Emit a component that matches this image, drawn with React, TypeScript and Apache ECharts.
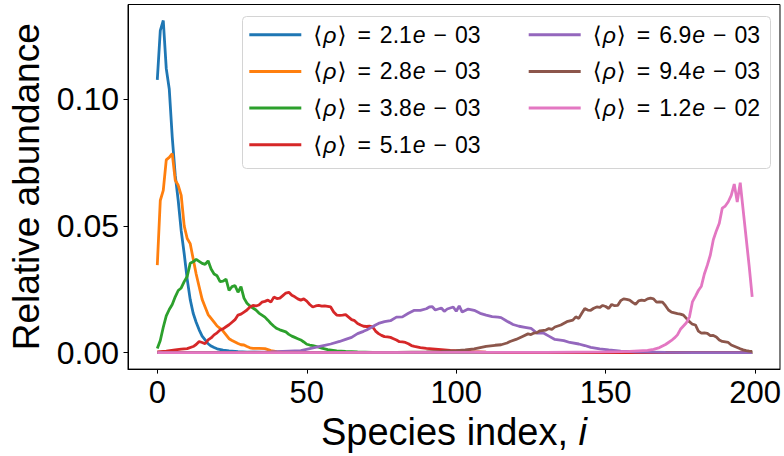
import React, { useEffect, useRef } from "react";
import * as echarts from "echarts";

const seriesNames = [
  "2.1e-03",
  "2.8e-03",
  "3.8e-03",
  "5.1e-03",
  "6.9e-03",
  "9.4e-03",
  "1.2e-02",
];
const colors = ["#1f77b4", "#ff7f0e", "#2ca02c", "#d62728", "#9467bd", "#8c564b", "#e377c2"];

const xTicks = [0, 50, 100, 150, 200];
const yTicks = [0, 0.05, 0.1];

const blue: number[][] = [
  [0, 0.1076], [1, 0.127], [2, 0.131], [3, 0.112], [4, 0.104], [5, 0.085], [6, 0.07], [7, 0.06],
  [8, 0.048], [9, 0.039], [10, 0.029], [11, 0.021], [12, 0.0155], [13, 0.012], [14, 0.009],
  [15, 0.0065], [16, 0.005], [17, 0.0035], [18, 0.0026], [19, 0.002], [20, 0.0015], [22, 0.001],
  [24, 0.0007], [27, 0.0004], [30, 0.0002], [35, 0.0001], [40, 0], [199, 0],
];
const orange: number[][] = [
  [0, 0.0345], [1, 0.06], [2, 0.064], [3, 0.076], [4, 0.077], [5, 0.0785], [6, 0.068], [7, 0.066],
  [8, 0.062], [9, 0.05], [10, 0.045], [11, 0.043], [12, 0.037], [13, 0.031], [14, 0.026], [15, 0.021],
  [16, 0.018], [17, 0.015], [18, 0.0135], [19, 0.012], [20, 0.0105], [21, 0.0096], [22, 0.0085],
  [23, 0.007], [24, 0.0055], [25, 0.0048], [26, 0.0042], [27, 0.0036], [28, 0.0031], [29, 0.003],
  [30, 0.0024], [31, 0.0019], [32, 0.0017], [34, 0.0017], [36, 0.0016], [38, 0.0008], [40, 0.0004],
  [45, 0.0002], [50, 0.0001], [55, 0], [199, 0],
];
const green: number[][] = [
  [0, 0.0016], [1, 0.0048], [2, 0.01], [3, 0.0145], [4, 0.017], [5, 0.019], [6, 0.022], [7, 0.0245],
  [8, 0.0255], [9, 0.028], [10, 0.03], [11, 0.0352], [12, 0.0358], [13, 0.0368], [14, 0.036],
  [15, 0.0352], [16, 0.0348], [17, 0.0362], [18, 0.033], [19, 0.031], [20, 0.0303], [21, 0.028],
  [22, 0.0282], [23, 0.029], [24, 0.0245], [25, 0.026], [26, 0.0264], [27, 0.0238], [28, 0.026],
  [29, 0.0215], [30, 0.0195], [31, 0.0184], [32, 0.0176], [33, 0.0168], [34, 0.0156], [35, 0.0148],
  [36, 0.014], [37, 0.0128], [38, 0.0115], [39, 0.0104], [40, 0.0095], [41, 0.009], [42, 0.0086],
  [43, 0.0082], [44, 0.0072], [45, 0.0065], [46, 0.006], [47, 0.0055], [48, 0.005], [49, 0.0042],
  [50, 0.0033], [51, 0.003], [52, 0.0028], [53, 0.0025], [55, 0.0018], [57, 0.0012], [60, 0.0007],
  [63, 0.0005], [67, 0.0003], [72, 0.0001], [80, 0], [199, 0],
];
const red: number[][] = [
  [0, 0.0003], [3, 0.0006], [6, 0.0011], [8, 0.0014], [10, 0.0016], [12, 0.0024], [13, 0.0032],
  [14, 0.0044], [15, 0.004], [16, 0.0035], [17, 0.005], [18, 0.0058], [19, 0.007], [20, 0.0078],
  [21, 0.0089], [22, 0.0094], [23, 0.0102], [24, 0.011], [25, 0.012], [26, 0.013], [27, 0.0148],
  [28, 0.0152], [29, 0.016], [30, 0.0168], [31, 0.018], [32, 0.0186], [33, 0.0184], [34, 0.0188],
  [35, 0.0199], [36, 0.0202], [37, 0.0207], [38, 0.0199], [39, 0.0219], [40, 0.0213], [41, 0.0215],
  [42, 0.0225], [43, 0.0235], [44, 0.0238], [45, 0.0226], [46, 0.022], [47, 0.0212], [48, 0.0207],
  [49, 0.0212], [50, 0.0203], [51, 0.019], [52, 0.018], [53, 0.0184], [54, 0.0186], [55, 0.0183],
  [56, 0.0184], [57, 0.0182], [58, 0.018], [59, 0.016], [60, 0.0148], [61, 0.0147], [62, 0.0148],
  [63, 0.015], [64, 0.014], [65, 0.013], [66, 0.0126], [67, 0.0115], [68, 0.0109], [69, 0.0104],
  [70, 0.0103], [71, 0.0104], [72, 0.0102], [73, 0.0085], [74, 0.0075], [75, 0.0068], [76, 0.0063],
  [77, 0.0062], [78, 0.006], [79, 0.0055], [80, 0.005], [81, 0.0043], [82, 0.0042], [83, 0.004],
  [84, 0.0035], [85, 0.0028], [86, 0.0025], [88, 0.002], [90, 0.0017], [92, 0.0015], [95, 0.0012],
  [98, 0.0009], [101, 0.0007], [105, 0.0004], [110, 0.0002], [120, 0], [199, 0],
];
const purple: number[][] = [
  [0, 0], [30, 0.0001], [38, 0.0003], [44, 0.0006], [48, 0.0008], [51, 0.0016], [54, 0.0024],
  [56, 0.0029], [58, 0.0034], [61, 0.0044], [63, 0.0052], [65, 0.006], [67, 0.0075], [69, 0.0084],
  [70, 0.0089], [72, 0.0102], [73, 0.0109], [74, 0.0115], [76, 0.0122], [78, 0.0126], [80, 0.014],
  [82, 0.0141], [84, 0.0155], [86, 0.0167], [88, 0.0167], [90, 0.0173], [91, 0.018], [92, 0.0181],
  [93, 0.0168], [94, 0.0172], [95, 0.0176], [96, 0.0163], [97, 0.0172], [99, 0.018], [100, 0.0163],
  [101, 0.0184], [102, 0.016], [104, 0.0172], [106, 0.0167], [108, 0.0155], [110, 0.0148],
  [112, 0.0142], [114, 0.014], [115, 0.0138], [117, 0.0124], [119, 0.0111], [121, 0.0104],
  [123, 0.01], [125, 0.0096], [127, 0.0077], [129, 0.0078], [131, 0.0065], [133, 0.0052],
  [136, 0.0047], [138, 0.004], [141, 0.0034], [143, 0.0028], [145, 0.0021], [148, 0.0015],
  [151, 0.0011], [155, 0.0006], [160, 0.0003], [170, 0.0001], [180, 0], [199, 0],
];
const brown: number[][] = [
  [0, 0], [80, 0.0001], [90, 0.0003], [95, 0.0005], [100, 0.0008], [103, 0.0011], [106, 0.0015],
  [108, 0.002], [110, 0.0025], [113, 0.0029], [115, 0.0031], [117, 0.0038], [118, 0.0044],
  [120, 0.0052], [122, 0.0063], [124, 0.0074], [125, 0.0071], [126, 0.0077], [127, 0.0079],
  [128, 0.0086], [130, 0.0089], [131, 0.0095], [132, 0.0092], [133, 0.0101], [135, 0.0109],
  [137, 0.0122], [139, 0.0128], [140, 0.0141], [141, 0.0135], [142, 0.0155], [143, 0.0174],
  [144, 0.0168], [145, 0.0167], [146, 0.0175], [147, 0.018], [148, 0.0178], [149, 0.0186],
  [150, 0.0182], [151, 0.0174], [152, 0.019], [153, 0.0185], [154, 0.0186], [155, 0.0205],
  [156, 0.0212], [157, 0.021], [158, 0.0207], [159, 0.0198], [160, 0.019], [161, 0.0204],
  [162, 0.0207], [163, 0.0205], [164, 0.0212], [165, 0.0215], [166, 0.0212], [167, 0.0199],
  [168, 0.02], [169, 0.0199], [170, 0.0185], [171, 0.0168], [172, 0.016], [173, 0.0157],
  [174, 0.0154], [175, 0.0152], [176, 0.0148], [177, 0.0135], [178, 0.0122], [179, 0.0112],
  [180, 0.0109], [181, 0.0085], [182, 0.0077], [183, 0.0078], [184, 0.0076], [185, 0.0067],
  [186, 0.0068], [187, 0.0062], [188, 0.005], [189, 0.0044], [190, 0.0042], [191, 0.004],
  [192, 0.003], [193, 0.0025], [194, 0.002], [195, 0.0015], [196, 0.0011], [197, 0.0008],
  [198, 0.0006], [199, 0.0005],
];
const pink: number[][] = [
  [0, 0], [130, 0.0001], [140, 0.0002], [150, 0.0003], [155, 0.0004], [158, 0.0005], [161, 0.0007],
  [164, 0.0009], [166, 0.0013], [168, 0.002], [170, 0.0032], [171, 0.004], [172, 0.0048],
  [173, 0.0058], [174, 0.007], [175, 0.0092], [176, 0.0105], [177, 0.0118], [178, 0.014],
  [179, 0.02], [180, 0.0222], [181, 0.0245], [182, 0.0262], [183, 0.031], [184, 0.0345],
  [185, 0.0385], [186, 0.0445], [187, 0.048], [188, 0.051], [189, 0.057], [190, 0.0578],
  [191, 0.0595], [192, 0.062], [193, 0.0665], [194, 0.0594], [195, 0.067], [196, 0.056],
  [197, 0.045], [198, 0.034], [199, 0.022],
];

const allData = [blue, orange, green, red, purple, brown, pink];

const FONT = "'Liberation Sans', Arial, 'DejaVu Sans', sans-serif";
const LFS = 23;

function legendFormatter(name: string) {
  const [mant, exp] = name.split("e");
  const sign = exp.startsWith("-") ? "\u2212" : "+";
  const expDigits = exp.replace(/^[-+]/, "");
  return `{b|\u27E8}{r|\u03C1}{b|\u27E9}{q|=}{b|${mant}}{e|e}{m|${sign}}{b|${expDigits}}`;
}

const baseL = { fontSize: LFS, fontFamily: FONT, color: "#000", lineHeight: 24 };
const legendRich = {
  b: { ...baseL },
  r: { ...baseL, fontStyle: "italic", padding: [0, 1, 0, 1] },
  q: { ...baseL, padding: [0, 9, 0, 11] },
  e: { ...baseL, fontStyle: "italic", padding: [0, 0, 0, 1] },
  m: { ...baseL, padding: [0, 8, 0, 8] },
};

export default function App() {
  const ref = useRef<HTMLDivElement>(null);
  useEffect(() => {
    if (!ref.current) return;
    const chart = echarts.init(ref.current, undefined, { renderer: "svg" });
    const legendCommon = {
      orient: "vertical",
      icon: "rect",
      itemWidth: 52,
      itemHeight: 3,
      itemGap: 12.7,
      padding: 0,
      top: 22.7,
      z: 10,
      formatter: legendFormatter,
      textStyle: {
        fontSize: LFS,
        fontFamily: FONT,
        color: "#000",
        lineHeight: 24,
        padding: [0, 0, 0, 7],
        rich: legendRich,
      },
    };
    chart.setOption({
      animation: false,
      backgroundColor: "#fff",
      color: colors,
      grid: {
        left: 127,
        right: 3,
        top: 4.5,
        bottom: 81.5,
        show: true,
        borderColor: "#000",
        borderWidth: 1,
        backgroundColor: "transparent",
      },
      graphic: [
        {
          type: "rect",
          z: 5,
          shape: { x: 242.5, y: 16.5, width: 528, height: 152, r: 4 },
          style: { fill: "rgba(255,255,255,0.8)", stroke: "#d4d4d4", lineWidth: 1 },
        },
      ],
      legend: [
        { ...legendCommon, left: 249.3, data: seriesNames.slice(0, 4) },
        { ...legendCommon, left: 528.7, data: seriesNames.slice(4) },
      ],
      xAxis: {
        type: "value",
        min: -9.8,
        max: 208.3,
        name: "Species index, {it|i}",
        nameLocation: "middle",
        nameGap: 41,
        nameTextStyle: {
          fontSize: 38,
          fontFamily: FONT,
          color: "#000",
          lineHeight: 38,
          rich: {
            it: { fontSize: 38, fontFamily: FONT, fontStyle: "italic", color: "#000", lineHeight: 38 },
          },
        },
        axisLine: { show: true, onZero: false, lineStyle: { color: "#000", width: 1 } },
        axisTick: {
          show: true,
          length: 4.5,
          customValues: xTicks,
          lineStyle: { color: "#000", width: 1 },
        },
        axisLabel: {
          customValues: xTicks,
          fontSize: 31,
          fontFamily: FONT,
          color: "#000",
          margin: 8,
          lineHeight: 31,
          formatter: (v: number) => String(v),
        },
        splitLine: { show: false },
      },
      yAxis: {
        type: "value",
        min: -0.0065,
        max: 0.1373,
        name: "Relative abundance",
        nameLocation: "middle",
        nameGap: 83,
        nameTextStyle: { fontSize: 37, fontFamily: FONT, color: "#000" },
        axisLine: { show: true, onZero: false, lineStyle: { color: "#000", width: 1 } },
        axisTick: {
          show: true,
          length: 4.5,
          customValues: yTicks,
          lineStyle: { color: "#000", width: 1 },
        },
        axisLabel: {
          customValues: yTicks,
          fontSize: 32,
          fontFamily: FONT,
          color: "#000",
          margin: 9,
          formatter: (v: number) => v.toFixed(2),
        },
        splitLine: { show: false },
      },
      series: seriesNames.map((name, i) => ({
        name,
        type: "line",
        data: allData[i],
        showSymbol: false,
        symbol: "none",
        lineStyle: { width: 2.8, color: colors[i] },
        itemStyle: { color: colors[i] },
        z: 2 + i * 0.01,
      })),
    });
    return () => chart.dispose();
  }, []);
  return (
    <div
      ref={ref}
      style={{ position: "fixed", left: 0, top: 0, width: 784, height: 456, background: "#fff" }}
    />
  );
}
